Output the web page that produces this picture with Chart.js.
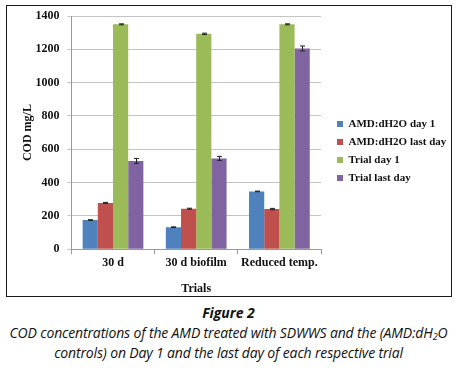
<!DOCTYPE html>
<html>
<head>
<meta charset="utf-8">
<script src="https://cdn.jsdelivr.net/npm/chart.js@4/dist/chart.umd.min.js"></script>
<style>
  html, body { margin: 0; padding: 0; background: #fff; width: 457px; height: 369px; overflow: hidden; }
  #frame { position: absolute; left: 6px; top: 5px; width: 446px; height: 292px; box-sizing: border-box; border: 1.3px solid #1a1a1a; }
  #wrap { position: absolute; left: 0; top: 0; width: 444px; height: 290px; }
  #fig { position: absolute; left: 0; top: 303px; width: 457px; text-align: center; font-family: "Open Sans", "Noto Sans", sans-serif; font-style: italic; color: #111; }
  #fig .t { font-weight: bold; font-size: 14px; line-height: 20px; }
  #fig .c { font-size: 14px; line-height: 19.5px; letter-spacing: -0.15px; white-space: nowrap; }
  sub { font-size: 9px; vertical-align: -2px; line-height: 0; }
</style>
</head>
<body>
<div id="frame"><div id="wrap"><canvas id="c"></canvas></div></div>
<div id="fig">
  <div class="t">Figure 2</div>
  <div class="c">COD concentrations of the AMD treated with SDWWS and the (AMD:dH<sub>2</sub>O</div>
  <div class="c">controls) on Day 1 and the last day of each respective trial</div>
</div>
<script>
const categories = ["30 d", "30 d biofilm", "Reduced temp."];
const seriesNames = ["AMD:dH2O day 1", "AMD:dH2O last day", "Trial day 1", "Trial last day"];
const amdDay1 = [175, 132, 347];
const amdLastDay = [278, 243, 241];
const trialDay1 = [1350, 1293, 1350];
const trialLastDay = [530, 545, 1205];
const errAmdDay1 = [2, 2, 2];
const errAmdLastDay = [3, 3, 4];
const errTrialDay1 = [3, 4, 3];
const errTrialLastDay = [15, 12, 15];
const yTicks = [0, 200, 400, 600, 800, 1000, 1200, 1400];
const colors = ["#4f81bd", "#c0504d", "#9bbb59", "#8064a2"];

const values = [amdDay1, amdLastDay, trialDay1, trialLastDay];
const errors = [errAmdDay1, errAmdLastDay, errTrialDay1, errTrialLastDay];

const errorBars = {
  id: 'errorBars',
  afterDatasetsDraw(chart) {
    const ctx = chart.ctx;
    const y = chart.scales.y;
    ctx.save();
    ctx.strokeStyle = '#222';
    ctx.lineWidth = 1;
    chart.data.datasets.forEach((ds, i) => {
      const meta = chart.getDatasetMeta(i);
      meta.data.forEach((bar, j) => {
        const v = ds.data[j], e = ds.errors[j];
        const x = Math.round(bar.x) + 0.5;
        const y1 = y.getPixelForValue(v + e), y2 = y.getPixelForValue(v - e);
        ctx.beginPath();
        ctx.moveTo(x, y1); ctx.lineTo(x, y2);
        ctx.moveTo(x - 2.5, y1); ctx.lineTo(x + 2.5, y1);
        ctx.moveTo(x - 2.5, y2); ctx.lineTo(x + 2.5, y2);
        ctx.stroke();
      });
    });
    ctx.restore();
  }
};

const serif = '"Liberation Serif", "Times New Roman", serif';

new Chart(document.getElementById('c'), {
  type: 'bar',
  data: {
    labels: categories,
    datasets: seriesNames.map((n, i) => ({
      label: n,
      data: values[i],
      errors: errors[i],
      backgroundColor: colors[i],
      borderWidth: 0,
      barPercentage: 1.0,
      categoryPercentage: 0.73
    }))
  },
  options: {
    responsive: true,
    maintainAspectRatio: false,
    animation: false,
    devicePixelRatio: 1,
    layout: { padding: { left: 14, right: 0, top: 0, bottom: 0 } },
    plugins: {
      legend: {
        position: 'right',
        maxWidth: 121,
        labels: {
          font: { family: serif, size: 11, weight: 'bold' },
          color: '#111',
          boxWidth: 6, boxHeight: 6,
          padding: 7
        }
      },
      tooltip: { enabled: false }
    },
    scales: {
      x: {
        grid: { display: true, drawOnChartArea: false, color: '#999', tickLength: 5, offset: true },
        border: { color: '#999' },
        ticks: { font: { family: serif, size: 12, weight: 'bold' }, color: '#111', padding: 2, maxRotation: 0, minRotation: 0, autoSkip: false },
        title: { display: true, text: 'Trials', font: { family: serif, size: 12, weight: 'bold' }, color: '#111', padding: { top: 9, bottom: 0 } }
      },
      y: {
        min: 0, max: 1400,
        afterBuildTicks(scale) { scale.ticks = yTicks.map(v => ({ value: v })); },
        afterFit(scale) { scale.paddingTop = 10; },
        grid: { color: '#c4c4c4', tickLength: 4 },
        border: { color: '#999' },
        ticks: { font: { family: serif, size: 12, weight: 'bold' }, color: '#111', padding: 8, callback: v => String(v) },
        title: { display: true, text: 'COD mg/L', font: { family: serif, size: 12, weight: 'bold' }, color: '#111', padding: { top: 0, bottom: -8 } }
      },
      spacer: {
        type: 'linear', position: 'right', display: true,
        grid: { display: false }, border: { display: false },
        ticks: { display: false },
        afterFit(scale) { scale.width = 9; }
      }
    }
  },
  plugins: [errorBars]
});
</script>
</body>
</html>
